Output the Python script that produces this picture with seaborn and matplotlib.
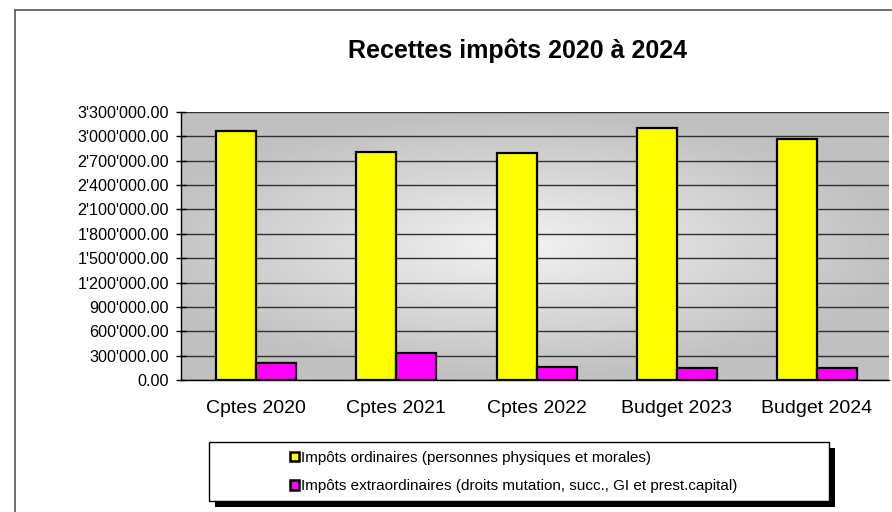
import numpy as np
import pandas as pd
import matplotlib
matplotlib.use("Agg")
import matplotlib.pyplot as plt
from matplotlib.patches import Rectangle
from matplotlib.ticker import FuncFormatter, MultipleLocator
import seaborn as sns

# Data
categories = ["Cptes 2020", "Cptes 2021", "Cptes 2022", "Budget 2023", "Budget 2024"]
ordinaires = [3066000, 2813000, 2800000, 3108000, 2973000]
extraordinaires = [213000, 336000, 160000, 151000, 151000]
series = ["Impôts ordinaires (personnes physiques et morales)",
          "Impôts extraordinaires (droits mutation, succ., GI et prest.capital)"]
colors = ["#ffff00", "#ff00ff"]

df = pd.DataFrame({
    "Categorie": categories * 2,
    "Montant": ordinaires + extraordinaires,
    "Serie": [series[0]] * len(categories) + [series[1]] * len(categories),
})

sns.set_style("white")
plt.rcParams["font.family"] = ["Liberation Sans", "DejaVu Sans"]
plt.rcParams["text.color"] = "black"
plt.rcParams["xtick.color"] = "black"
plt.rcParams["ytick.color"] = "black"

fig = plt.figure(figsize=(8.92, 5.12), dpi=100)
ax = fig.add_axes([181 / 892, 1 - 380 / 512, 708 / 892, 268 / 512])

# radial gray gradient behind the plot area
xx, yy = np.meshgrid(np.linspace(-1, 1, 300), np.linspace(-1, 1, 200))
r = np.clip(np.sqrt((xx + 0.05) ** 2 + (yy * 1.1) ** 2) / 1.1, 0, 1)
shade = 0.95 - 0.20 * r
ax.imshow(shade, cmap="gray", vmin=0, vmax=1, extent=[0, 1, 0, 1],
          transform=ax.transAxes, aspect="auto", zorder=0.1)

sns.barplot(data=df, x="Categorie", y="Montant", hue="Serie", palette=colors,
            saturation=1, edgecolor="black", linewidth=1.6, width=0.57, gap=0, ax=ax,
            legend=False, zorder=3)

ax.set_xlim(-0.535, 4.513)
ax.set_ylim(0, 3300000)
ax.yaxis.set_major_locator(MultipleLocator(300000))
ax.yaxis.set_major_formatter(FuncFormatter(lambda v, p: f"{v:,.2f}".replace(",", "'")))
ax.set_axisbelow(True)
ax.grid(axis="y", color="#303030", linewidth=1)
ax.grid(axis="x", visible=False)
ax.set_xlabel("")
ax.set_ylabel("")
ax.tick_params(axis="y", left=True, direction="inout", length=7, width=1, color="black",
               labelsize=11.6, pad=5)
ax.tick_params(axis="x", bottom=False, labelsize=14, pad=11)
for s in ["top", "right"]:
    ax.spines[s].set_visible(False)
for s in ["left", "bottom"]:
    ax.spines[s].set_color("black")
    ax.spines[s].set_linewidth(1)

fig.text(517 / 892, 1 - 51 / 512, "Recettes impôts 2020 à 2024", ha="center", va="center",
         fontsize=18, fontweight="bold")

# outer frame of the chart
fig.add_artist(plt.Line2D([15 / 892, 1], [1 - 10 / 512] * 2, color="#555555", lw=1.2,
                          transform=fig.transFigure))
fig.add_artist(plt.Line2D([15 / 892] * 2, [0, 1 - 10 / 512], color="#555555", lw=1.2,
                          transform=fig.transFigure))

# legend box with black shadow
fig.patches.append(Rectangle((215 / 892, 1 - 507 / 512), 620 / 892, 59 / 512,
                             transform=fig.transFigure, facecolor="black", edgecolor="none"))
fig.patches.append(Rectangle((209 / 892, 1 - 501 / 512), 620 / 892, 59 / 512,
                             transform=fig.transFigure, facecolor="white", edgecolor="black",
                             linewidth=1))
handles = [Rectangle((0, 0), 1, 1, facecolor=c, edgecolor="black", linewidth=1.8) for c in colors]
fig.legend(handles, series, loc="center left", bbox_to_anchor=(290 / 892, 1 - 472 / 512),
           frameon=False, fontsize=11, handlelength=0.6, handleheight=0.6, handletextpad=0.15,
           labelspacing=0.95, borderpad=0, borderaxespad=0)

fig.savefig("out.png", dpi=100)
